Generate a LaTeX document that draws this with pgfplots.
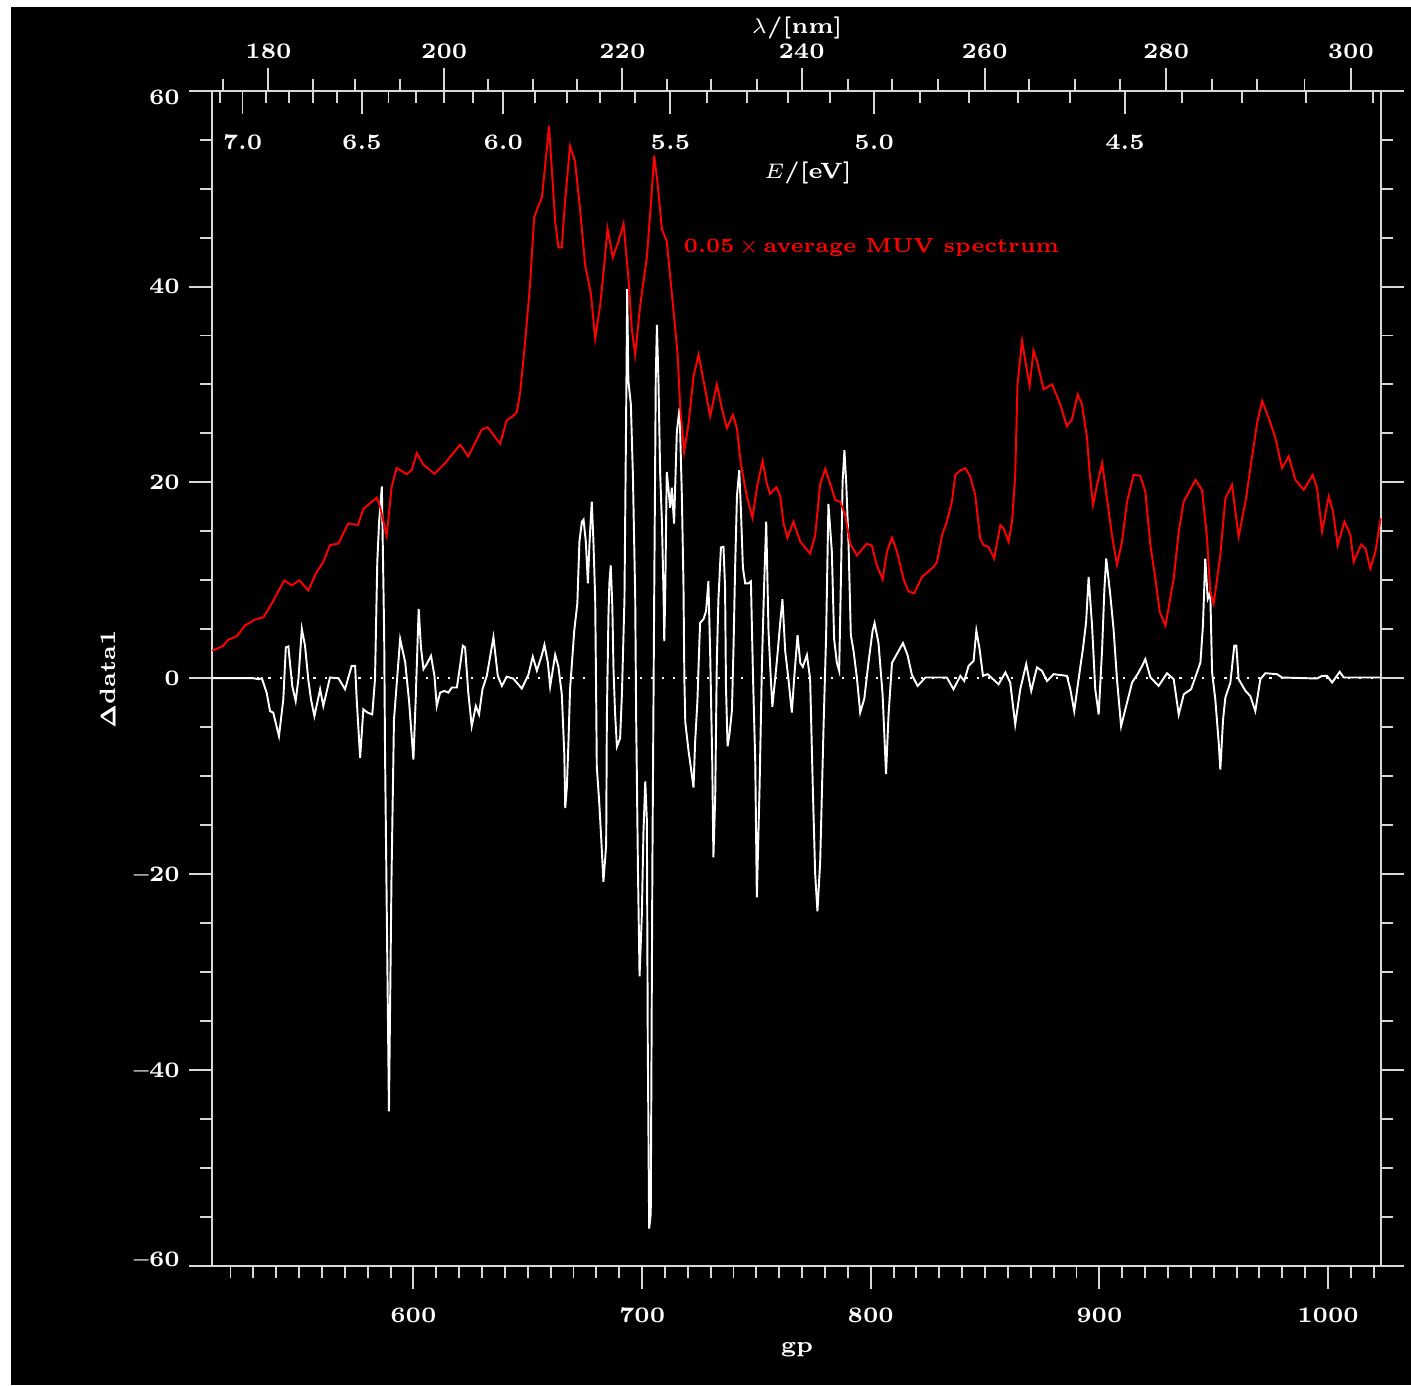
\documentclass[border=0pt]{standalone}
\usepackage{amsmath}
\usepackage[no-math]{fontspec}
\usepackage{pgfplots}
\pgfplotsset{compat=1.18}
\definecolor{axgray}{RGB}{215,215,215}
\definecolor{muvred}{RGB}{255,0,0}
\newcommand{\tf}{\fontsize{6.3}{7.6}\selectfont\bfseries}
\pgfplotsset{
  common/.style={
    at={(2.122cm,1.193cm)}, anchor=south west,
    scale only axis, width=11.684cm, height=11.75cm,
    xmin=512, xmax=1023, ymin=-60, ymax=60,
    axis line style={axgray, line width=0.55pt},
    every tick/.style={axgray, line width=0.55pt},
    major tick length=0.23cm, minor tick length=0.12cm,
    tick label style={font=\tf, text=white},
    label style={font=\tf, text=white},
    clip=false,
  }
}
\begin{document}
\begin{tikzpicture}
\useasboundingbox (0,0) rectangle (14.11,13.85);
\fill[white] (0,0) rectangle (14.11,13.85);
\fill[black] (0.11,0) rectangle (14.11,13.78);

% main axis
\begin{axis}[common,
  tick align=outside,
  xtick pos=bottom, ytick pos=both,
  xtick={600,700,800,900,1000},
  xticklabels={600,700,800,900,1000},
  minor xtick={520,530,...,1020},
  ytick={-60,-40,-20,0,20,40,60},
  yticklabels={\raisebox{0.065cm}[\height][\depth]{--60},--40,--20,0,20,40,\raisebox{-0.065cm}[\height][\depth]{60}},
  minor ytick={-55,-50,...,55},
  xticklabel style={anchor=center, yshift=-0.27cm},
  yticklabel style={xshift=0.03cm},
  xlabel={gp}, ylabel={$\boldsymbol{\Delta}$data1},
  xlabel style={at={(axis description cs:0.5005,-0.0715)}, anchor=center},
  ylabel style={at={(axis description cs:-0.0892,0.4992)}, anchor=center},
]
\addplot[white, line width=0.5pt, dash pattern=on 0.6pt off 2.6pt] coordinates {(512,0) (1023,0)};
\addplot[white, line width=0.55pt] coordinates {
(512,0)(530.0,0)(532.2,-0.10)(533.7,0)(535.8,-1.47)(537.3,-3.36)(538.7,-3.52)(541.2,-5.92)(543.1,-2.16)(544.2,3.15)(545.3,3.25)(547.0,-0.79)(548.5,-2.33)(549.7,-0.10)(551.2,5.03)(552.6,3.32)(554.0,-0.10)(555.2,-2.16)(556.7,-3.87)(559.2,-1.13)(560.6,-2.84)(563.5,0.07)(567.2,0)(570.1,-1.13)(573.0,1.26)(574.5,1.26)(575.2,-2.16)(576.7,-8.14)(578.1,-3.18)(580.0,-3.52)(582.0,-3.70)(583.2,-0.10)(584.2,11.88)(585.0,15.99)(586.2,19.58)(587.2,4.69)(587.6,-7.80)(589.3,-44.25)(590.4,-20.64)(591.5,-4.21)(594.2,4.0)(596.4,1.64)(598.1,-2.33)(600.0,-8.32)(601.0,-2.16)(602.3,7.08)(603.3,3.15)(604.4,0.92)(605.8,1.44)(607.7,2.29)(609.2,0.24)(610.2,-2.84)(611.7,-1.47)(613.5,-1.30)(615.3,-1.47)(616.8,-0.95)(619.0,-0.95)(620.4,1.26)(621.6,3.32)(622.6,3.15)(624.0,-1.47)(625.5,-4.90)(627.3,-2.84)(628.7,-3.70)(630.2,-1.13)(632.1,0.24)(635.0,4.18)(636.9,0.24)(638.7,-0.79)(640.8,0.16)(643.7,-0.04)(647.4,-1.06)(650.3,0.37)(652.2,2.20)(654.0,0.77)(656.2,2.39)(657.3,3.41)(658.8,1.58)(659.8,-0.85)(662.0,2.39)(663.4,1.18)(664.9,-1.66)(666.0,-7.81)(666.4,-13.27)(667.1,-11.17)(667.8,-6.56)(668.5,-1.11)(669.3,1.41)(670.3,4.75)(671.7,7.67)(672.6,13.96)(673.7,16.0)(674.4,16.20)(675.4,13.96)(676.3,9.70)(677.0,13.76)(678.0,18.03)(678.7,14.17)(679.5,8.08)(679.9,-1.26)(680.2,-9.07)(681.2,-12.42)(682.1,-16.19)(683.1,-20.80)(684.3,-17.03)(684.6,-4.05)(685.3,6.44)(685.7,9.70)(686.3,11.53)(687.0,7.27)(687.5,0.99)(688.2,-3.62)(689.0,-6.98)(690.4,-6.14)(691.2,-1.53)(692.3,8.11)(693.0,25.94)(693.5,39.74)(694.0,30.41)(695.1,27.97)(696.0,20.67)(697.0,8.29)(697.4,-3.62)(698.2,-19.55)(698.9,-30.44)(699.9,-24.16)(700.6,-15.78)(701.4,-10.53)(702.1,-14.52)(702.5,-37.36)(703.1,-56.21)(703.8,-54.72)(704.5,-19.55)(705.3,8.11)(706.0,30.81)(706.5,36.09)(707.2,30.0)(707.9,21.07)(708.7,15.79)(709.4,8.48)(709.7,3.80)(710.1,8.11)(710.8,21.07)(711.5,19.45)(712.3,17.40)(713.0,19.45)(714.0,15.79)(715.2,25.13)(716.4,27.57)(717.4,18.63)(718.1,9.70)(718.5,-0.04)(718.9,-4.46)(720.3,-7.39)(721.8,-9.91)(722.5,-11.17)(723.2,-6.56)(724.2,-2.36)(725.1,3.92)(725.4,5.65)(726.9,6.05)(728.0,6.86)(729.0,9.91)(729.8,2.39)(730.7,-8.66)(731.2,-18.29)(732.0,-12.0)(732.7,1.83)(733.4,8.11)(734.5,13.36)(735.6,13.42)(736.3,9.28)(736.7,-0.87)(737.4,-6.96)(738.2,-5.75)(739.3,-3.31)(740.0,3.18)(740.7,11.30)(741.5,18.61)(742.5,21.25)(743.2,17.39)(744.1,11.30)(745.1,9.68)(746.5,9.68)(747.6,9.89)(748.5,0.35)(749.5,-8.58)(750.2,-22.39)(751.4,-11.03)(752.4,1.16)(753.4,9.68)(754.3,15.98)(755.3,4.82)(756.3,-0.06)(757.0,-2.91)(758.2,-0.06)(759.2,2.37)(760.4,5.63)(761.4,8.06)(762.6,2.78)(764.0,-0.06)(765.5,-3.51)(766.5,-0.06)(768.0,4.40)(769.2,1.56)(770.3,1.16)(772.1,2.37)(773.5,-0.06)(774.7,-11.43)(775.7,-19.95)(776.7,-23.81)(777.9,-18.74)(779.4,-4.73)(780.5,4.40)(781.5,17.80)(783.0,12.93)(784.0,4.0)(785.2,1.56)(786.2,0.75)(787.0,10.49)(787.7,20.03)(788.5,23.29)(789.3,19.84)(790.3,13.74)(791.3,4.40)(792.5,2.78)(794.0,-0.06)(795.4,-3.51)(797.2,-2.09)(799.0,1.56)(800.8,4.82)(801.7,5.63)(803.4,3.59)(805.2,-1.68)(806.7,-9.80)(807.8,-3.72)(809.3,1.56)(811.2,2.37)(814.1,3.59)(816.1,2.37)(818.0,0.35)(820.5,-0.79)(823.9,0.07)(833.3,0.07)(836.2,-1.13)(839.2,0.24)(840.9,-0.28)(842.8,1.26)(845.0,1.78)(846.2,4.86)(847.6,2.98)(849.1,0.24)(851.1,0.41)(853.5,-0.10)(855.9,-0.62)(858.9,0.59)(861.0,-0.44)(863.2,-4.72)(865.4,-1.13)(868.0,1.44)(870.2,-1.30)(872.7,1.10)(874.9,0.75)(877.1,-0.28)(880.0,0.41)(885.8,0.24)(887.3,-1.13)(889.0,-3.36)(890.9,-0.10)(892.8,2.98)(894.2,5.72)(895.3,10.34)(896.8,5.37)(898.2,-1.13)(899.7,-3.70)(901.2,2.98)(902.2,9.14)(903.0,12.22)(904.8,8.45)(906.2,5.03)(907.7,-0.10)(909.5,-4.90)(912.1,-2.49)(914.3,-0.44)(916.7,0.41)(918.7,1.26)(920.1,1.95)(922.3,0.10)(925.9,-0.79)(929.6,0.51)(932.5,-0.10)(934.7,-3.70)(936.9,-1.64)(940.1,-1.13)(942.7,0.59)(944.2,1.61)(945.3,5.37)(946.3,12.22)(947.4,8.11)(948.5,8.80)(949.3,0.59)(950.7,-2.16)(952.2,-6.60)(952.9,-9.34)(954.1,-4.21)(955.1,-1.98)(957.3,-0.44)(959.0,3.32)(959.9,3.32)(960.9,-0.10)(963.9,-1.30)(966.0,-1.82)(968.2,-3.36)(970.4,-0.10)(972.6,0.51)(977.7,0.41)(979.9,0.07)(995.2,-0.03)(997.4,0.24)(999.6,0.24)(1001.8,-0.44)(1005.1,0.65)(1006.9,0.07)(1023,0.07)
};
\addplot[muvred, line width=0.55pt] coordinates {
(512,2.8)(516.7,3.29)(519.0,3.93)(522.7,4.28)(526.3,5.37)(530.7,5.99)(534.4,6.23)(538.0,7.60)(543.5,9.99)(546.8,9.48)(550.1,9.99)(554.0,8.96)(557.7,10.85)(560.6,11.88)(563.5,13.58)(567.2,13.76)(571.5,15.81)(575.7,15.64)(578.1,17.28)(584.0,18.45)(585.4,17.53)(588.3,14.55)(590.5,19.58)(592.7,21.46)(597.1,20.84)(599.3,21.28)(601.5,23.0)(604.4,21.80)(609.2,20.87)(613.9,21.97)(620.4,23.85)(624.0,22.66)(629.9,25.39)(632.5,25.64)(637.9,23.95)(640.8,26.34)(643.0,26.67)(645.2,27.16)(646.7,29.19)(648.9,34.47)(651.0,40.15)(652.8,47.05)(654.7,48.27)(656.2,49.09)(657.6,52.33)(659.3,56.39)(661.0,50.30)(662.0,46.64)(663.4,44.0)(664.9,44.0)(666.3,48.68)(668.5,54.36)(670.7,52.73)(672.9,47.86)(675.1,42.18)(677.6,39.34)(679.5,34.67)(681.7,38.12)(683.1,41.37)(684.9,45.91)(687.2,42.99)(689.7,44.62)(691.9,46.41)(694.0,40.97)(695.5,35.69)(697.0,33.05)(699.2,38.12)(702.1,42.99)(703.8,48.27)(705.3,53.35)(706.7,50.71)(708.7,45.83)(710.8,44.62)(713.0,39.34)(715.5,33.24)(716.7,27.57)(718.4,23.10)(720.3,25.94)(722.5,30.81)(724.7,33.05)(727.2,30.0)(729.8,26.76)(732.7,30.0)(734.9,27.57)(737.1,25.53)(739.7,26.9)(741.5,25.5)(743.2,21.87)(745.8,18.61)(748.3,16.38)(750.2,19.43)(752.7,22.19)(754.6,19.84)(756.0,18.82)(758.7,19.51)(760.4,18.61)(761.9,15.77)(763.6,14.35)(766.2,15.98)(769.2,13.94)(773.5,12.73)(775.7,14.56)(777.9,19.84)(780.1,21.38)(782.3,19.84)(784.5,18.20)(786.7,18.01)(788.9,16.58)(791.0,13.74)(794.0,12.53)(798.3,13.74)(800.5,13.54)(802.7,11.51)(805.2,10.09)(807.1,12.93)(809.3,14.35)(811.5,12.93)(814.4,10.09)(816.5,8.87)(819.0,8.67)(822.4,10.34)(827.5,11.37)(829.0,11.88)(831.2,14.61)(833.3,15.99)(835.5,18.04)(837.0,20.77)(838.9,21.18)(841.4,21.46)(843.5,20.61)(845.7,18.72)(847.9,14.27)(849.4,13.58)(851.5,13.42)(854.0,12.22)(856.7,15.64)(858.1,15.30)(860.3,13.93)(861.8,15.99)(863.2,20.77)(864.2,30.01)(866.2,34.47)(867.6,32.41)(869.5,29.85)(871.2,33.44)(872.7,32.41)(875.6,29.50)(879.3,30.01)(882.9,27.96)(885.8,25.74)(888.0,26.42)(890.5,28.98)(892.4,27.96)(894.6,24.54)(895.7,21.12)(897.2,17.69)(899.0,19.74)(901.2,21.97)(903.3,18.38)(905.5,14.61)(907.7,11.60)(909.9,13.93)(912.1,18.04)(915.0,20.77)(917.9,20.67)(920.1,19.07)(922.3,13.58)(924.5,10.16)(926.4,6.75)(928.9,5.37)(932.5,10.16)(934.7,14.96)(936.9,18.04)(942.0,20.26)(944.9,19.23)(947.1,14.27)(948.5,8.80)(950.0,7.60)(952.9,12.56)(955.1,18.38)(958.0,19.74)(960.9,14.45)(963.9,18.04)(966.8,22.66)(969.0,26.08)(971.2,28.31)(974.0,26.59)(977.0,24.54)(979.9,21.46)(982.8,22.66)(985.7,20.26)(989.4,19.23)(993.3,20.77)(995.2,19.40)(997.4,14.96)(1000.3,18.55)(1002.2,17.01)(1004.2,13.58)(1007.2,15.99)(1009.8,14.61)(1011.2,11.88)(1014.5,13.66)(1016.4,13.24)(1018.5,11.19)(1020.7,12.91)(1023,16.32)
};
\node[anchor=west, text=muvred, font=\fontsize{5.8}{7}\selectfont\bfseries, inner sep=0pt] at (axis cs:718,44) {0.05$\,\times\,$average MUV spectrum};
\end{axis}

% wavelength axis (outside ticks on top)
\begin{axis}[common,
  axis x line*=top, axis y line=none,
  tick align=outside,
  xtick={536.6,613.5,691.4,769.8,849.8,929.2,1010.0},
  xticklabels={180,200,220,240,260,280,300},
  minor xtick={516.9,555.9,574.6,594.0,632.8,652.5,671.7,710.7,730.0,750.3,789.9,809.4,829.5,869.1,889.2,909.1,949.1,969.0,989.7},
  xticklabel style={anchor=center, yshift=0.16cm},
  xlabel={$\lambda$/[nm]},
  xlabel style={at={(axis description cs:0.5005,1.0534)}, anchor=center},
]
\end{axis}

% energy axis (inside ticks on top)
\begin{axis}[common,
  axis x line*=top, axis y line=none,
  tick align=inside,
  xtick={525.25,577.5,639.3,712.4,801.5,911.2},
  xticklabels={7.0,6.5,6.0,5.5,5.0,4.5},
  minor xtick={515.4,535.4,545.6,556.1,566.6,589.1,601.0,613.4,626.0,653.0,667.0,681.6,696.8,728.5,746.0,763.7,782.3,821.6,842.9,864.5,887.3,936.3,962.4,990.5,1019.6},
  xticklabel style={anchor=center, yshift=-0.518cm},
  xlabel={$E$/[eV]},
  xlabel style={at={(axis description cs:0.5099,0.9299)}, anchor=center},
]
\end{axis}
\end{tikzpicture}
\end{document}
